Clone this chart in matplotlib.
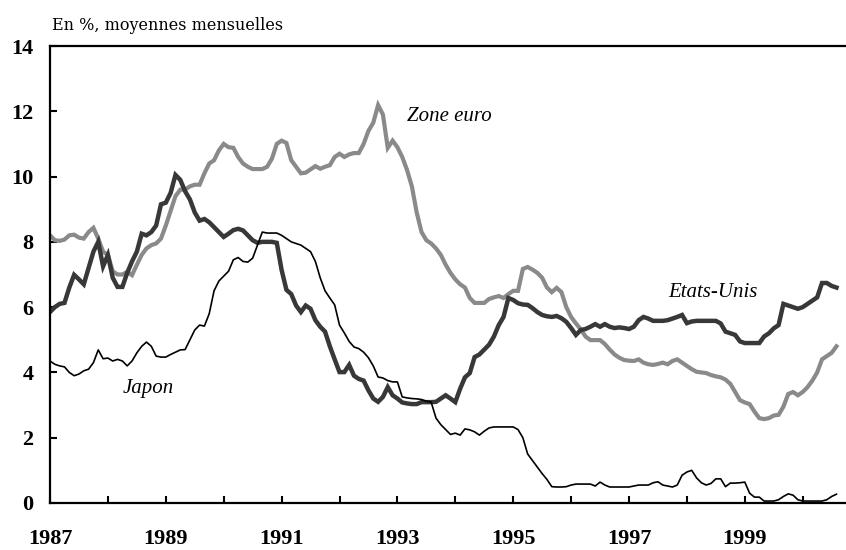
import numpy as np
import matplotlib
matplotlib.use("Agg")
import matplotlib.pyplot as plt

# monthly averages, Jan 1987 - Aug 2000 (in %)
zone_euro = [
    8.2, 8.05, 8.03, 8.07, 8.2, 8.22, 8.13, 8.1, 8.3, 8.43, 8.1, 7.7,
    7.6, 7.1, 7.0, 7.0, 7.08, 6.98, 7.3, 7.6, 7.8, 7.9, 7.95, 8.1,
    8.5, 8.95, 9.4, 9.6, 9.6, 9.7, 9.75, 9.75, 10.1, 10.4, 10.5, 10.8,
    11.0, 10.9, 10.88, 10.6, 10.4, 10.3, 10.23, 10.23, 10.23, 10.3, 10.55, 11.0,
    11.1, 11.03, 10.5, 10.3, 10.1, 10.12, 10.22, 10.32, 10.24, 10.3, 10.35, 10.6,
    10.7, 10.6, 10.68, 10.72, 10.72, 11.0, 11.4, 11.65, 12.19, 11.9, 10.88, 11.1,
    10.9, 10.6, 10.2, 9.7, 8.9, 8.3, 8.05, 7.95, 7.8, 7.6, 7.3, 7.05,
    6.85, 6.7, 6.6, 6.28, 6.13, 6.13, 6.13, 6.25, 6.3, 6.34, 6.28, 6.4,
    6.5, 6.5, 7.17, 7.23, 7.15, 7.05, 6.9, 6.6, 6.46, 6.59, 6.46, 6.0,
    5.7, 5.5, 5.32, 5.1, 4.99, 4.99, 4.99, 4.87, 4.7, 4.55, 4.45, 4.38,
    4.36, 4.35, 4.4, 4.3, 4.25, 4.23, 4.26, 4.3, 4.25, 4.35, 4.4, 4.3,
    4.2, 4.1, 4.02, 4.0, 3.98, 3.92, 3.88, 3.85, 3.78, 3.65, 3.4, 3.15,
    3.08, 3.03, 2.8, 2.6, 2.57, 2.6, 2.68, 2.7, 2.95, 3.34, 3.4, 3.3,
    3.4, 3.55, 3.75, 4.0, 4.4, 4.5, 4.6, 4.8,
]

etats_unis = [
    5.85, 6.0, 6.1, 6.13, 6.6, 6.99, 6.85, 6.7, 7.2, 7.7, 8.0, 7.25,
    7.6, 6.9, 6.62, 6.62, 7.05, 7.4, 7.7, 8.25, 8.2, 8.3, 8.5, 9.15,
    9.2, 9.5, 10.05, 9.9, 9.55, 9.3, 8.9, 8.65, 8.7, 8.6, 8.45, 8.3,
    8.15, 8.25, 8.36, 8.4, 8.35, 8.2, 8.05, 7.97, 8.0, 8.0, 8.0, 7.97,
    7.14, 6.53, 6.4, 6.05, 5.85, 6.05, 5.95, 5.6, 5.4, 5.25, 4.8, 4.4,
    4.01, 4.01, 4.23, 3.9, 3.8, 3.75, 3.45, 3.2, 3.1, 3.25, 3.55, 3.3,
    3.2, 3.08, 3.05, 3.03, 3.03, 3.09, 3.09, 3.09, 3.1, 3.2, 3.3, 3.2,
    3.09, 3.5, 3.85, 3.98, 4.47, 4.55, 4.7, 4.85, 5.1, 5.45, 5.7, 6.28,
    6.22, 6.12, 6.08, 6.07, 5.97, 5.85, 5.76, 5.72, 5.7, 5.73, 5.66, 5.55,
    5.36, 5.15, 5.3, 5.33, 5.4, 5.48, 5.4, 5.48, 5.4, 5.36, 5.38, 5.36,
    5.33, 5.4, 5.6, 5.7, 5.65, 5.58, 5.58, 5.58, 5.6, 5.65, 5.7, 5.76,
    5.51, 5.56, 5.58, 5.58, 5.58, 5.58, 5.58, 5.5, 5.25, 5.2, 5.15, 4.95,
    4.9, 4.9, 4.9, 4.9, 5.1, 5.2, 5.35, 5.45, 6.1, 6.05, 6.0, 5.95,
    6.0, 6.1, 6.2, 6.3, 6.74, 6.74, 6.65, 6.6,
]

japon = [
    4.35, 4.25, 4.2, 4.17, 4.0, 3.9, 3.95, 4.05, 4.1, 4.3, 4.69, 4.42,
    4.44, 4.35, 4.4, 4.35, 4.2, 4.35, 4.6, 4.8, 4.93, 4.8, 4.5, 4.47,
    4.47, 4.55, 4.62, 4.69, 4.7, 5.0, 5.3, 5.45, 5.42, 5.8, 6.5, 6.8,
    6.95, 7.1, 7.45, 7.52, 7.4, 7.38, 7.5, 7.9, 8.3, 8.27, 8.27, 8.27,
    8.2, 8.1, 8.0, 7.95, 7.9, 7.8, 7.7, 7.4, 6.9, 6.5, 6.28, 6.07,
    5.45, 5.21, 4.95, 4.78, 4.73, 4.62, 4.45, 4.2, 3.86, 3.83, 3.75, 3.71,
    3.71, 3.25, 3.22, 3.2, 3.19, 3.17, 3.12, 3.09, 2.6, 2.4, 2.25, 2.1,
    2.14, 2.08, 2.27, 2.24, 2.18, 2.08, 2.2, 2.3, 2.33, 2.33, 2.33, 2.33,
    2.33, 2.25, 2.0, 1.5, 1.3, 1.1, 0.9, 0.72, 0.5, 0.49, 0.49, 0.5,
    0.55, 0.58, 0.58, 0.58, 0.58, 0.52, 0.64, 0.55, 0.49, 0.49, 0.49, 0.49,
    0.49, 0.52, 0.55, 0.55, 0.55, 0.62, 0.65, 0.55, 0.52, 0.49, 0.55, 0.85,
    0.95, 1.0, 0.77, 0.62, 0.55, 0.6, 0.74, 0.74, 0.5, 0.61, 0.61, 0.62,
    0.64, 0.3, 0.18, 0.18, 0.06, 0.06, 0.06, 0.1, 0.2, 0.28, 0.24, 0.1,
    0.06, 0.06, 0.06, 0.06, 0.06, 0.1, 0.2, 0.27,
]

years = 1987 + np.arange(len(zone_euro)) / 12
year_labels = ["1987", "1989", "1991", "1993", "1995", "1997", "1999"]

plt.rcParams["font.family"] = ["Liberation Serif", "DejaVu Serif"]

fig = plt.figure(figsize=(8.46, 5.5), dpi=100)
ax = fig.add_axes([50 / 846, 47 / 550, 1 - 50 / 846, 457 / 550])

ax.plot(years, zone_euro, color="#8a8a8a", lw=3.0, solid_joinstyle="miter")
ax.plot(years, etats_unis, color="#383838", lw=3.2, solid_joinstyle="miter")
ax.plot(years, japon, color="black", lw=1.2)

ax.set_xlim(1987, 1987 + 796 / 57.9)
ax.set_ylim(0, 14)
ax.set_yticks(range(0, 15, 2))
ax.set_xticks(range(1987, 2001))
ax.set_xticklabels([str(y) if str(y) in year_labels else "" for y in range(1987, 2001)])

for s in ["left", "bottom", "top"]:
    ax.spines[s].set_linewidth(1.6)
ax.spines["right"].set_visible(False)
ax.tick_params(axis="both", direction="in", length=5, width=1.5,
               labelsize=16)
ax.tick_params(axis="x", pad=19)
ax.tick_params(axis="y", pad=12)
for lab in ax.get_xticklabels() + ax.get_yticklabels():
    lab.set_fontweight("bold")

ax.text(1993.17, 11.83, "Zone euro", style="italic", fontsize=15, va="center")
ax.text(1997.67, 6.46, "Etats-Unis", style="italic", fontsize=15, va="center")
ax.text(1988.26, 3.52, "Japon", style="italic", fontsize=15, va="center")

fig.text(52 / 846, 1 - 25 / 550, "En %, moyennes mensuelles", fontsize=11.5,
         family=["DejaVu Serif"], va="center", ha="left")

fig.savefig("out.png", dpi=100)
